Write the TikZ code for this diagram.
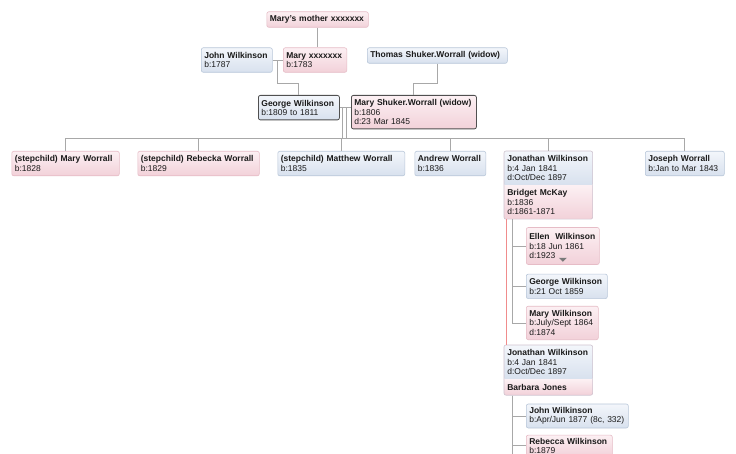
\documentclass[tikz,border=0pt]{standalone}
\usepackage{fontspec}
\setmainfont{Liberation Sans}
\usepackage{xcolor}
\definecolor{cMaleTop}{HTML}{F3F6FB}
\definecolor{cMaleBot}{HTML}{D8E1EE}
\definecolor{cMaleEdge}{HTML}{B9C7D9}
\definecolor{cFemTop}{HTML}{FCF0F3}
\definecolor{cFemBot}{HTML}{F2D1D9}
\definecolor{cFemEdge}{HTML}{E6BCC6}
\definecolor{cFrame}{HTML}{CFC3CF}
\definecolor{cSel}{HTML}{505050}
\definecolor{cLink}{HTML}{A8A8A8}
\definecolor{cSame}{HTML}{F08C8C}
\definecolor{cTri}{HTML}{7A7A7A}
\definecolor{cText}{HTML}{1A1A1A}
\usepackage{tikz}
\usetikzlibrary{positioning,fit,calc}
\tikzset{
  person/.style={rounded corners=2pt,anchor=north west,align=left,
    inner xsep=3pt,inner ysep=3pt,line width=0.6pt,text=cText,
    font=\fontsize{8.5}{9.3}\selectfont},
  person-m/.style={person,draw=cMaleEdge,top color=cMaleTop,bottom color=cMaleBot},
  person-f/.style={person,draw=cFemEdge,top color=cFemTop,bottom color=cFemBot},
  person-sel/.style={draw=cSel,line width=0.8pt},
  % one person shown with a spouse: two fills, one frame round both
  part-m/.style={person,draw=none,sharp corners,top color=cMaleTop,bottom color=cMaleBot},
  part-f/.style={person,draw=none,sharp corners,top color=cFemTop,bottom color=cFemBot},
  frame/.style={draw=cFrame,line width=0.6pt,rounded corners=2pt,inner sep=0pt},
  lines-1/.style={minimum height=15.5pt},
  lines-2/.style={minimum height=24.5pt},
  lines-3/.style={minimum height=33.5pt},
  link/.style={draw=cLink,line width=0.9pt},
  link-same/.style={draw=cSame,line width=0.9pt},
}

\begin{document}
\begin{tikzpicture}[x=1pt,y=1pt]
  \useasboundingbox (0,0) rectangle (736,-454);
  \clip (0,0) rectangle (736,-454);
  \fill[white] (0,0) rectangle (736,-454);

  % grandparents and parents
  \node[person-f,lines-1,text width=95.5pt] (mmother) at (266.5,-11.5) {\textbf{Mary's mother xxxxxxx}};
  \node[person-m,lines-2,text width=65pt] (johnW) at (201,-47.5) {\textbf{John Wilkinson}\\b:1787};
  \node[person-f,lines-2,text width=57.5pt] (maryX) at (283,-47.5) {\textbf{Mary xxxxxxx}\\b:1783};
  \node[person-m,lines-1,text width=134pt] (thomas) at (367,-47.5) {\textbf{Thomas Shuker.Worrall (widow)}};
  \node[person-m,person-sel,lines-2,text width=75pt] (george) at (258,-95) {\textbf{George Wilkinson}\\b:1809 to 1811};
  \node[person-f,person-sel,lines-3,text width=119pt] (maryS) at (351,-95) {\textbf{Mary Shuker.Worrall (widow)}\\b:1806\\d:23 Mar 1845};

  % children
  \node[person-f,lines-2,text width=101.5pt] (stepMary) at (11.5,-151) {\textbf{(stepchild) Mary Worrall}\\b:1828};
  \node[person-f,lines-2,text width=115.5pt] (stepRebecka) at (137.5,-151) {\textbf{(stepchild) Rebecka Worrall}\\b:1829};
  \node[person-m,lines-2,text width=121pt] (stepMatthew) at (277.5,-151) {\textbf{(stepchild) Matthew Worrall}\\b:1835};
  \node[person-m,lines-2,text width=65pt] (andrew) at (414.5,-151) {\textbf{Andrew Worrall}\\b:1836};
  \node[part-m,lines-3,text width=82pt] (jonA) at (504,-151) {\textbf{Jonathan Wilkinson}\\b:4 Jan 1841\\d:Oct/Dec 1897};
  \node[part-f,lines-3,text width=82pt,below=0pt of jonA] (bridget) {\textbf{Bridget McKay}\\b:1836\\d:1861-1871};
  \node[frame,fit=(jonA)(bridget)] (jonAbox) {};
  \node[person-m,lines-2,text width=73pt] (joseph) at (645,-151) {\textbf{Joseph Worrall}\\b:Jan to Mar 1843};

  % grandchildren, first marriage
  \node[person-f,minimum height=37pt,text width=67pt,below right=8pt and 22pt of bridget.south west] (ellen) {\textbf{Ellen\ \ Wilkinson}\\b:18 Jun 1861\\d:1923};
  \fill[cTri] ($(ellen.south)+(-4,7)$) -- ($(ellen.south)+(4,7)$) -- ($(ellen.south)+(0,3)$) -- cycle;
  \node[person-m,lines-2,text width=75pt,below right=9pt and 0pt of ellen.south west] (georgeW) {\textbf{George Wilkinson}\\b:21 Oct 1859};
  \node[person-f,lines-3,text width=66pt,below right=7pt and 0pt of georgeW.south west] (maryW) {\textbf{Mary Wilkinson}\\b:July/Sept 1864\\d:1874};

  % second marriage
  \node[part-m,lines-3,text width=82pt] (jonB) at (504,-345) {\textbf{Jonathan Wilkinson}\\b:4 Jan 1841\\d:Oct/Dec 1897};
  \node[part-f,lines-1,text width=82pt,below=0pt of jonB] (barbara) {\textbf{Barbara Jones}};
  \node[frame,fit=(jonB)(barbara)] (jonBbox) {};
  \node[person-m,minimum height=24pt,text width=96pt,below right=8.5pt and 22pt of barbara.south west] (johnW2) {\textbf{John Wilkinson}\\b:Apr/Jun 1877 (8c, 332)};
  \node[person-f,minimum height=21pt,text width=80pt,below right=6.5pt and 0pt of johnW2.south west] (rebeccaW) {\textbf{Rebecca Wilkinson}\\b:1879};

  % connectors
  \draw[link] (mmother.south) -- (mmother.south |- maryX.north);
  \draw[link] (johnW.east) -- (johnW.east -| maryX.west);
  \coordinate (jm) at ($(johnW.east)!.5!(maryX.west)$);
  \draw[link] (jm) |- ($(george.north)+(0,12)$) -- (george.north);
  \draw[link] (thomas.south) |- ($(maryS.north)+(0,12)$) -- (maryS.north);
  \draw[link] (george.east) -- (george.east -| maryS.west);

  \coordinate (bus) at (0,-138.3);
  \coordinate (fam1) at ($(george.east)+(3,0)$);
  \coordinate (fam2) at ($(george.east)+(7,0)$);
  \draw[link] (fam1) -- (fam1 |- bus);
  \draw[link] (fam2) -- (fam2 |- bus);
  \draw[link] (stepMary.north) |- (bus -| joseph.north) -- (joseph.north);
  \foreach \kid in {stepRebecka,stepMatthew,andrew,jonAbox}
    \draw[link] (\kid.north) -- (\kid.north |- bus);

  \coordinate (kidsA) at ($(jonAbox.south west)+(8.5,0)$);
  \foreach \kid in {ellen,georgeW,maryW}
    \draw[link] (kidsA) |- (\kid.west);
  \draw[link-same] ($(jonAbox.south west)+(3,0)$) -- ($(jonBbox.north west)+(3,0)$);

  \coordinate (kidsB) at ($(jonBbox.south west)+(8.5,0)$);
  \foreach \kid in {johnW2,rebeccaW}
    \draw[link] (kidsB) |- (\kid.west);
  \draw[link] (kidsB) -- (kidsB |- 0,-470);
\end{tikzpicture}
\end{document}
